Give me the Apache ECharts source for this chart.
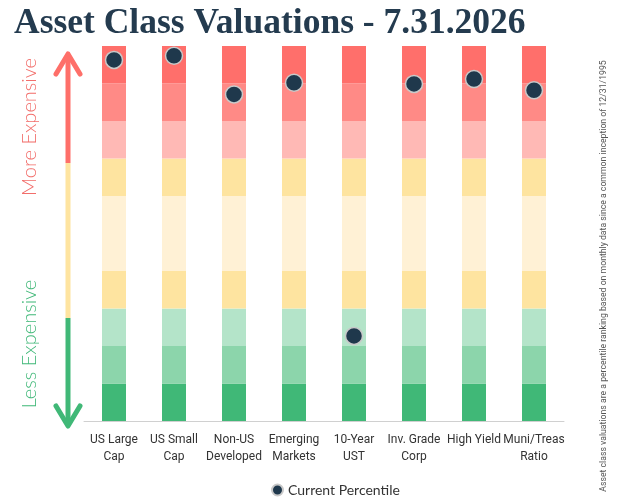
<!DOCTYPE html>
<html>
<head>
<meta charset="utf-8">
<script src="https://cdn.jsdelivr.net/npm/echarts@6/dist/echarts.min.js"></script>
<style>
  html, body { margin: 0; padding: 0; background: #fff; }
  #main { width: 630px; height: 501px; }
</style>
</head>
<body>
<div id="main"></div>
<script>
// 资产类别
const categories = ['US Large\nCap', 'US Small\nCap', 'Non-US\nDeveloped', 'Emerging\nMarkets',
  '10-Year\nUST', 'Inv. Grade\nCorp', 'High Yield', 'Muni/Treas\nRatio']
// 当前百分位
const currentPercentile = [96.3, 97.4, 87.1, 90.2, 22.7, 89.9, 91.2, 88.2]
// 色带（自下而上的百分位宽度）
const bandSizes = [10, 10, 10, 10, 20, 10, 10, 10, 10]
const bandColors = ['#40b877', '#8cd5ab', '#b4e4c9', '#fee4a0', '#fff1d5', '#fee4a0', '#ffb9b5', '#ff8a86', '#ff6f6b']

const chart = echarts.init(document.getElementById('main'))

const bandSeries = bandSizes.map(function (size, i) {
  return {
    name: 'band' + i,
    type: 'bar',
    stack: 'bands',
    barWidth: 24,
    silent: true,
    itemStyle: { color: bandColors[i] },
    data: categories.map(function () { return size })
  }
})

const option = {
  animation: false,
  title: {
    text: 'Asset Class Valuations - 7.31.2026',
    left: 9,
    top: 1,
    textStyle: {
      fontFamily: 'Liberation Serif',
      fontSize: 35.5,
      fontWeight: 'bold',
      color: '#243b4f'
    }
  },
  legend: {
    data: ['Current Percentile'],
    left: 266,
    top: 478,
    itemWidth: 11,
    itemHeight: 11,
    itemGap: 6,
    textStyle: { fontFamily: 'Lato', fontSize: 14, color: '#333' }
  },
  grid: { left: 84, right: 66, top: 46, bottom: 80 },
  xAxis: {
    type: 'category',
    data: categories,
    axisTick: { show: false },
    axisLine: { lineStyle: { color: '#d0d0d0', width: 1 } },
    axisLabel: {
      interval: 0,
      margin: 10,
      fontFamily: 'Roboto',
      fontSize: 12,
      lineHeight: 17,
      color: '#333'
    }
  },
  yAxis: {
    type: 'value',
    min: 0,
    max: 100,
    show: false
  },
  series: bandSeries.concat([{
    name: 'Current Percentile',
    type: 'scatter',
    symbol: 'circle',
    symbolSize: 17,
    itemStyle: { color: '#1f384c', borderColor: '#c9c9c9', borderWidth: 1.5, opacity: 1 },
    z: 5,
    data: currentPercentile
  }]),
  graphic: [
    // 左侧箭头
    { type: 'line', shape: { x1: 68, y1: 54, x2: 68, y2: 163 }, style: { stroke: '#fe6f69', lineWidth: 5 } },
    { type: 'polyline', shape: { points: [[56, 74], [68, 54], [80, 74]] }, style: { stroke: '#fe6f69', lineWidth: 5, fill: null, lineCap: 'round', lineJoin: 'round' } },
    { type: 'line', shape: { x1: 68, y1: 163, x2: 68, y2: 318 }, style: { stroke: '#fee4a0', lineWidth: 5 } },
    { type: 'line', shape: { x1: 68, y1: 318, x2: 68, y2: 426 }, style: { stroke: '#40b877', lineWidth: 5 } },
    { type: 'polyline', shape: { points: [[56, 406], [68, 426], [80, 406]] }, style: { stroke: '#40b877', lineWidth: 5, fill: null, lineCap: 'round', lineJoin: 'round' } },
    {
      type: 'text', x: 30, y: 127, rotation: Math.PI / 2,
      style: { text: 'More Expensive', fill: '#f26e6b', font: '300 20px Lato', align: 'center', verticalAlign: 'middle' }
    },
    {
      type: 'text', x: 30, y: 344, rotation: Math.PI / 2,
      style: { text: 'Less Expensive', fill: '#43b97a', font: '300 20px Lato', align: 'center', verticalAlign: 'middle' }
    },
    {
      type: 'text', x: 604, y: 276, rotation: Math.PI / 2,
      style: {
        text: 'Asset class valuations are a percentile ranking based on monthly data since a common inception of 12/31/1995',
        fill: '#555', font: '8.7px Roboto', align: 'center', verticalAlign: 'middle'
      }
    }
  ]
}

chart.setOption(option)
</script>
</body>
</html>
